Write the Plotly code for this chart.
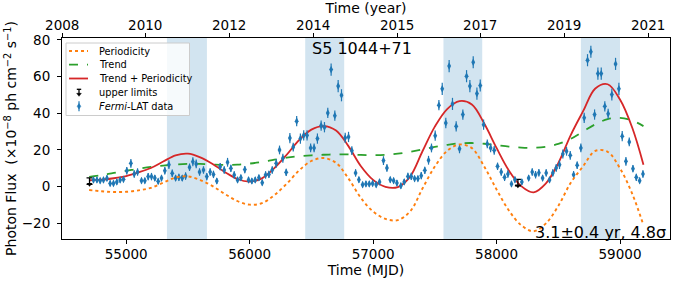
import plotly.graph_objects as go

# ---------------- data ----------------
mjd = [54735, 54763, 54789, 54816, 54844, 54870, 54897, 54924, 54951, 54978,
       55005, 55038, 55065, 55092, 55124, 55151, 55178, 55205, 55232, 55259,
       55286, 55313, 55346, 55373, 55400, 55427, 55454, 55481, 55513, 55540,
       55567, 55594, 55626, 55653, 55680, 55707, 55734, 55761, 55794, 55821,
       55848, 55875, 55902, 55929, 55961, 55991, 56018, 56045, 56075, 56102,
       56129, 56156, 56183, 56215, 56242, 56269, 56296, 56326, 56353, 56381,
       56411, 56438, 56465, 56494, 56522, 56549, 56579, 56606, 56633, 56660,
       56690, 56717, 56744, 56774, 56801, 56828, 56858, 56885, 56915, 56942,
       56969, 56996, 57025, 57052, 57084, 57112, 57139, 57166, 57193, 57225,
       57252, 57282, 57309, 57336, 57363, 57390, 57419, 57449, 57473, 57503,
       57533, 57560, 57589, 57616, 57643, 57673, 57700, 57727, 57757, 57784,
       57811, 57841, 57868, 57895, 57925, 57952, 57981, 58008, 58038, 58065,
       58092, 58121, 58149, 58205, 58260, 58289, 58316, 58343, 58373, 58402,
       58429, 58456, 58483, 58510, 58537, 58567, 58597, 58624, 58653, 58683,
       58710, 58737, 58764, 58794, 58821, 58848, 58877, 58904, 58934, 58964,
       58991, 59018, 59048, 59075, 59105, 59132, 59159, 59186]

flux = [3.7, 3.7, 3.3, 3.7, 4.6, 1.8, 1.8, 2.6, 3.7, 4.0,
        8.7, 12.7, 6.9, 8.0, 3.3, 3.3, 5.5, 5.5, 4.7, 2.9,
        4.7, 8.7, 12.0, 7.3, 4.7, 5.1, 4.7, 5.8, 10.6, 13.6,
        12.4, 8.0, 9.1, 5.5, 8.0, 6.7, 3.1, 10.9, 9.1, 13.3,
        10.0, 6.4, 3.7, 4.9, 9.3, 3.7, 3.1, 3.7, 4.9, 2.2,
        6.4, 6.7, 9.1, 12.7, 20.0, 15.5, 7.8, 26.5, 21.6, 35.7,
        26.2, 28.0, 28.0, 21.1, 21.1, 26.2, 33.3, 32.4, 40.2, 63.8,
        38.7, 54.8, 49.8, 26.6, 27.1, 19.6, 7.5, 3.8, 1.1, 1.5,
        1.5, 1.8, 1.1, 2.6, 14.2, 10.2, 3.8, 3.3, 2.0, 0.5,
        2.6, 5.6, 5.6, 4.4, 4.4, 6.0, 8.9, 14.4, 21.1, 27.8,
        44.4, 53.3, 34.7, 65.7, 45.1, 32.9, 20.6, 39.3, 60.2, 54.8,
        67.8, 50.7, 55.1, 33.8, 23.3, 21.1, 19.8, 11.1, 8.0, 5.1,
        6.9, 1.5, 3.8, 2.6, 4.7, 8.0, 6.5, 7.6, 4.7, 7.5,
        3.7, 7.5, 10.2, 12.0, 17.8, 19.3, 17.1, 6.5, 11.7, 21.1,
        37.5, 68.9, 73.5, 39.3, 61.6, 61.6, 43.8, 39.7, 50.2, 66.9,
        53.3, 27.5, 13.8, 24.4, 9.8, 5.1, 3.3, 6.9]

flux_err = [1.6, 1.6, 1.6, 1.6, 1.6, 1.6, 1.6, 1.6, 1.6, 1.6,
            2.0, 2.4, 2.0, 2.0, 1.6, 1.6, 2.0, 2.0, 1.6, 1.6,
            1.6, 2.0, 2.4, 2.0, 1.6, 2.0, 1.6, 2.0, 2.0, 2.4,
            2.4, 2.0, 2.0, 2.0, 2.0, 2.0, 1.6, 2.0, 2.0, 2.4,
            2.0, 2.0, 1.6, 1.6, 2.0, 1.6, 1.6, 1.6, 1.6, 1.6,
            2.0, 2.0, 2.0, 2.4, 2.4, 2.4, 2.0, 2.8, 2.4, 2.8,
            2.8, 2.8, 2.8, 2.4, 2.4, 2.8, 2.8, 2.8, 2.8, 3.3,
            2.8, 3.3, 3.3, 2.8, 2.8, 2.4, 2.0, 1.6, 1.6, 1.6,
            1.6, 1.6, 1.6, 1.6, 2.4, 2.0, 1.6, 1.6, 1.6, 1.6,
            1.6, 2.0, 2.0, 1.6, 1.6, 2.0, 2.0, 2.4, 2.4, 2.8,
            2.8, 3.3, 2.8, 3.3, 3.3, 2.8, 2.4, 2.8, 3.3, 3.3,
            3.3, 3.3, 3.3, 2.8, 2.4, 2.4, 2.4, 2.0, 2.0, 2.0,
            2.0, 1.6, 1.6, 1.6, 1.6, 2.0, 2.0, 2.0, 1.6, 2.0,
            1.6, 2.0, 2.0, 2.4, 2.4, 2.4, 2.4, 2.0, 2.0, 2.4,
            2.8, 3.3, 3.3, 2.8, 3.3, 3.3, 2.8, 2.8, 3.3, 3.3,
            3.3, 2.8, 2.4, 2.4, 2.0, 2.0, 1.6, 2.0]

ul_mjd = [54703, 58173]
ul_flux = [4.8, 4.0]

curve_mjd = [54700, 54800, 54900, 55000, 55100, 55200, 55300, 55400, 55500, 55600,
             55700, 55800, 55900, 56000, 56100, 56200, 56300, 56400, 56500, 56600,
             56700, 56800, 56900, 57000, 57100, 57200, 57300, 57400, 57500, 57600,
             57700, 57800, 57900, 58000, 58100, 58200, 58300, 58400, 58500, 58600,
             58700, 58800, 58900, 59000, 59100, 59190]

trend = [5.3, 6.3, 7.5, 8.6, 9.8, 10.8, 11.5, 12.1, 12.4, 12.4,
         12.1, 11.9, 12.0, 12.6, 13.5, 14.7, 15.8, 16.6, 17.1, 17.4,
         17.6, 17.6, 17.3, 17.2, 17.4, 18.0, 19.0, 20.3, 21.7, 22.8,
         23.6, 23.8, 23.4, 22.6, 21.8, 21.3, 21.2, 21.8, 23.3, 26.0,
         30.0, 34.0, 36.8, 37.5, 36.0, 33.0]

periodicity = [-1.8, -2.5, -2.9, -2.8, -2.0, -0.6, 2.2, 5.0, 5.6, 3.6,
               0.3, -4.0, -7.8, -9.8, -9.0, -4.6, 1.6, 8.8, 14.0, 15.6,
               13.0, 4.5, -6.0, -13.5, -17.5, -18.2, -13.5, -1.0, 11.0, 19.5,
               23.0, 21.0, 11.0, -1.5, -13.0, -21.0, -24.3, -20.0, -10.5, 2.0,
               11.0, 19.5, 19.0, 10.0, -4.0, -21.0]

combined = [t + p for t, p in zip(trend, periodicity)]

shade_start = [55330, 56450, 57570, 58683]
shade_end = [55654, 56766, 57884, 59000]

mjd_ticks = [55000, 56000, 57000, 58000, 59000]
year_tick_mjd = [54482, 55154, 55834, 56515, 57195, 57868, 58548, 59228]
year_tick_text = ["2008", "2010", "2012", "2014", "2015", "2017", "2019", "2021"]
flux_ticks = [-20, 0, 20, 40, 60, 80]

legend_labels = ["Periodicity", "Trend", "Trend + Periodicity", "upper limits",
                 "<i>Fermi</i>-LAT data"]

x_range = [54480, 59405]
y_range = [-28.5, 81]

# ---------------- layout constants (pixels) ----------------
W, H = 676, 282
ML, MR, MT, MB = 62, 6, 38, 43
PW, PH = W - ML - MR, H - MT - MB
FONT = "DejaVu Sans"
C_BLUE, C_ORANGE, C_GREEN, C_RED = "#1f77b4", "#ff7f0e", "#2ca02c", "#d62728"


def px(x):
    return (x - ML) / PW


def py(y):
    return (H - MB - y) / PH


fig = go.Figure()

for s, e in zip(shade_start, shade_end):
    fig.add_shape(type="rect", xref="x", yref="paper", x0=s, x1=e, y0=0, y1=1,
                  fillcolor="rgba(31,119,180,0.2)", line_width=0, layer="below")

fig.add_trace(go.Scatter(x=curve_mjd, y=periodicity, mode="lines", xaxis="x2",
                         line=dict(color=C_ORANGE, width=1.9, dash="dot", shape="spline")))
fig.add_trace(go.Scatter(x=curve_mjd, y=trend, mode="lines",
                         line=dict(color=C_GREEN, width=1.8, dash="dash", shape="spline")))
fig.add_trace(go.Scatter(x=curve_mjd, y=combined, mode="lines",
                         line=dict(color=C_RED, width=1.8, shape="spline")))

ul_len = 3.5
fig.add_trace(go.Scatter(x=ul_mjd, y=[v - ul_len for v in ul_flux], mode="markers",
                         marker=dict(symbol="triangle-down", size=5, color="black"),
                         error_y=dict(type="data", symmetric=False, array=[ul_len] * len(ul_flux),
                                      arrayminus=[0] * len(ul_flux), color="black",
                                      thickness=1.3, width=3)))

fig.add_trace(go.Scatter(x=mjd, y=flux, mode="markers",
                         marker=dict(symbol="diamond-tall", size=5.5, color=C_BLUE),
                         error_y=dict(type="data", array=flux_err, color=C_BLUE,
                                      thickness=1.2, width=0)))

# ---------------- legend (drawn in paper space) ----------------
rows = [51, 64.7, 78.5, 92.3, 106.3]
kx0, kx1, kc, tx = 69, 88, 79, 96.5
fig.add_shape(type="rect", xref="paper", yref="paper", x0=px(66), x1=px(189.5),
              y0=py(115.5), y1=py(43), fillcolor="rgba(255,255,255,0.8)",
              line=dict(color="#cccccc", width=1), layer="above")
for r, col, dash, wd in zip(rows[:3], [C_ORANGE, C_GREEN, C_RED], ["dot", "dash", "solid"],
                            [1.9, 1.8, 1.8]):
    fig.add_shape(type="line", xref="paper", yref="paper", x0=px(kx0), x1=px(kx1),
                  y0=py(r), y1=py(r), line=dict(color=col, width=wd, dash=dash))
r = rows[3]
fig.add_shape(type="line", xref="paper", yref="paper", x0=px(kc), x1=px(kc),
              y0=py(r - 3), y1=py(r + 2), line=dict(color="black", width=1.3))
fig.add_shape(type="line", xref="paper", yref="paper", x0=px(kc - 2.2), x1=px(kc + 2.2),
              y0=py(r - 3), y1=py(r - 3), line=dict(color="black", width=1.3))
fig.add_shape(type="path", xref="paper", yref="paper",
              path=f"M {px(kc - 2.3)} {py(r + 1)} L {px(kc + 2.3)} {py(r + 1)} L {px(kc)} {py(r + 4)} Z",
              fillcolor="black", line=dict(color="black", width=0.5))
r = rows[4]
fig.add_shape(type="line", xref="paper", yref="paper", x0=px(kc), x1=px(kc),
              y0=py(r - 5), y1=py(r + 5), line=dict(color=C_BLUE, width=1.2))
fig.add_shape(type="path", xref="paper", yref="paper",
              path=f"M {px(kc)} {py(r - 2.8)} L {px(kc + 1.8)} {py(r)} L {px(kc)} {py(r + 2.8)} L {px(kc - 1.8)} {py(r)} Z",
              fillcolor=C_BLUE, line=dict(color=C_BLUE, width=0.5))

for r, lab in zip(rows, legend_labels):
    fig.add_annotation(text=lab, x=px(tx), y=py(r), xref="paper", yref="paper",
                       xanchor="left", yanchor="middle", showarrow=False,
                       font=dict(size=9.8, family=FONT, color="black"))
fig.add_annotation(text="S5 1044+71", x=px(362), y=py(49), xref="paper", yref="paper",
                   showarrow=False, xanchor="center", yanchor="middle",
                   font=dict(size=16, color="black", family=FONT))
fig.add_annotation(text="3.1±0.4 yr, 4.8σ", x=px(668), y=py(232), xref="paper", yref="paper",
                   xanchor="right", yanchor="middle", showarrow=False,
                   font=dict(size=16, color="black", family=FONT))

axis_common = dict(ticks="outside", ticklen=4, tickcolor="black", showgrid=False,
                   zeroline=False, automargin=False)

fig.update_layout(
    width=W, height=H,
    margin=dict(l=ML, r=MR, t=MT, b=MB),
    paper_bgcolor="white", plot_bgcolor="white",
    font=dict(family=FONT, size=13.5, color="black"),
    showlegend=False,
    xaxis=dict(range=x_range, tickvals=mjd_ticks, ticktext=[str(v) for v in mjd_ticks],
               showline=True, linecolor="black", linewidth=1, mirror=True,
               ticklabelstandoff=-1,
               title=dict(text="Time (MJD)", standoff=1, font=dict(size=14)), **axis_common),
    xaxis2=dict(range=x_range, overlaying="x", side="top", anchor="y",
                tickvals=year_tick_mjd, ticktext=year_tick_text, showline=False,
                ticklabelstandoff=-2,
                title=dict(text="Time (year)", standoff=0, font=dict(size=14)), **axis_common),
    yaxis=dict(range=y_range, tickvals=flux_ticks,
               ticktext=[str(v).replace("-", "−") for v in flux_ticks],
               showline=True, linecolor="black", linewidth=1, mirror=True,
               ticklabelstandoff=4,
               title=dict(text="Photon Flux  (×10<sup>−8</sup> ph cm<sup>−2</sup> s<sup>−1</sup>)",
                          standoff=1, font=dict(size=14)), **axis_common),
)

fig.write_html("out.html", config={"displayModeBar": False},
               post_script="document.body.style.margin='0';document.body.style.padding='0';")
